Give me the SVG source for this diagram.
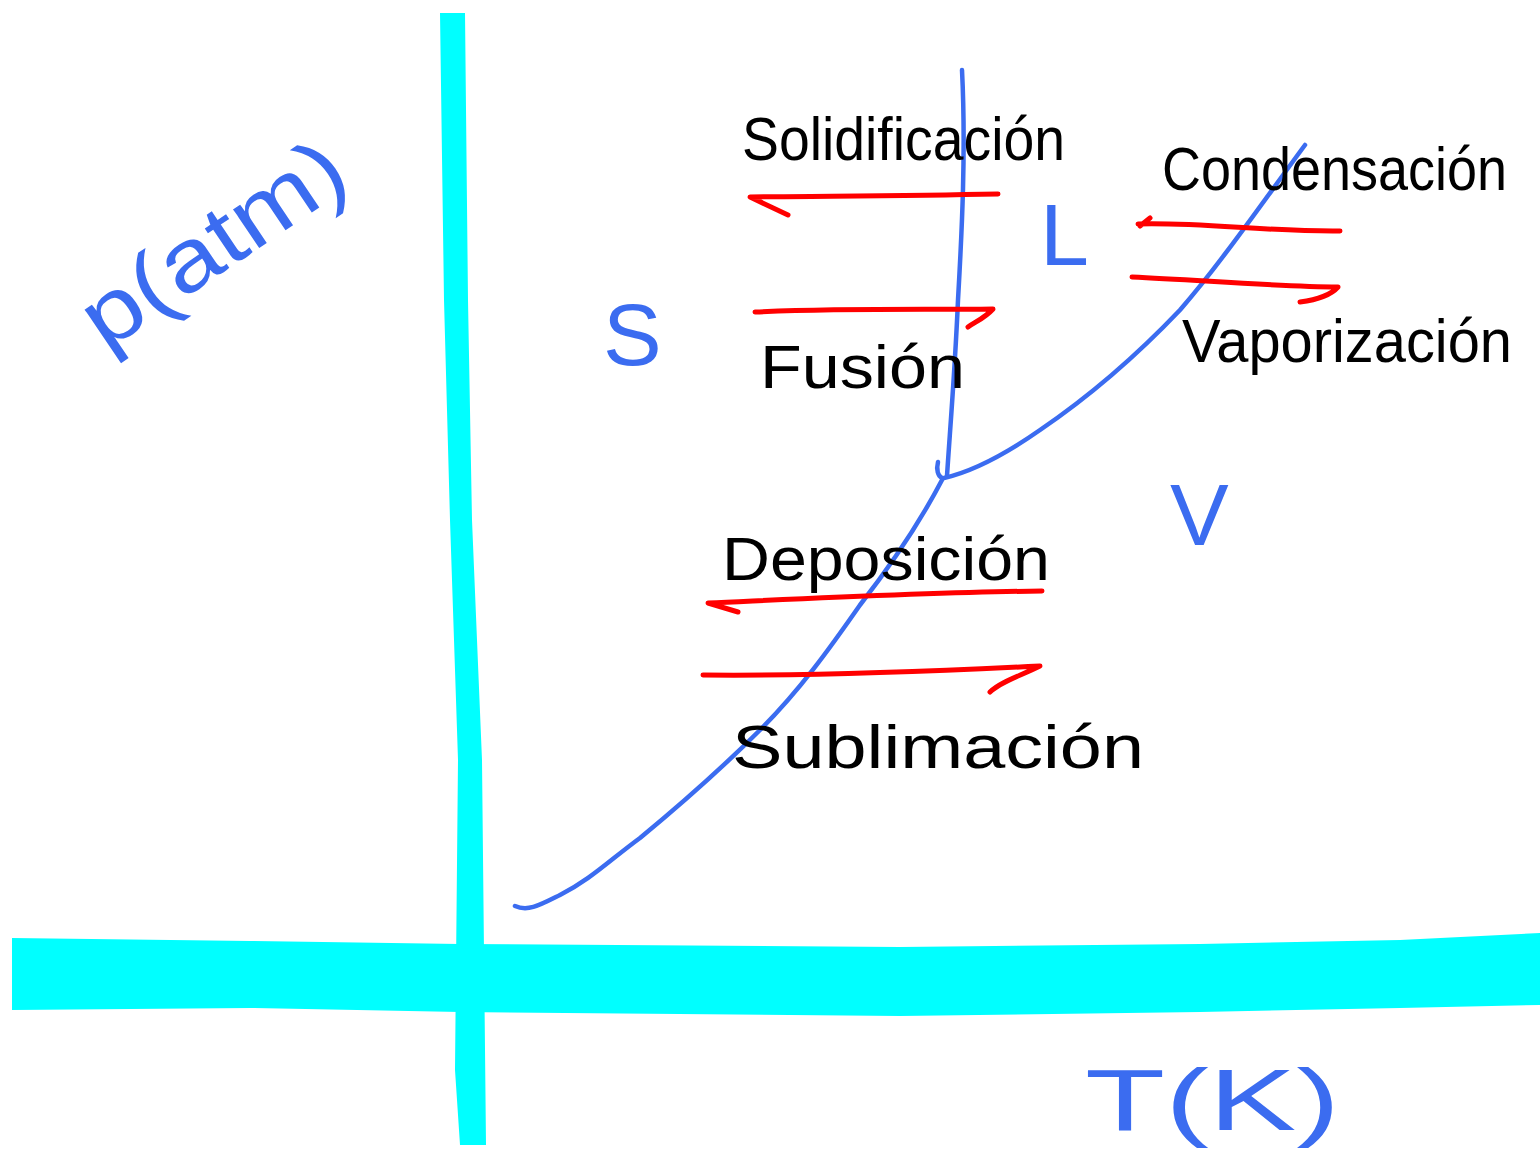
<svg xmlns="http://www.w3.org/2000/svg" width="1540" height="1155" viewBox="0 0 1540 1155">
<style>
.axis{fill:#00FFFF;stroke:none}
.curve{fill:none;stroke:#3B6CF0;stroke-width:4.5;stroke-linecap:round;stroke-linejoin:round}
.arrow{fill:none;stroke:#FF0000;stroke-width:5;stroke-linecap:round;stroke-linejoin:round}
.lbl{font-family:"Liberation Sans",Arial,sans-serif;fill:#000000;font-size:62px}
.phase{font-family:"Liberation Sans",Arial,sans-serif;fill:#3B6CF0;font-size:88px}
</style>
<rect width="1540" height="1155" fill="#FFFFFF"/>
<g id="axes">
<polygon class="axis" points="440,13 465,13 468,300 472,520 482,760 486,1145 460,1145 455,1070 458,760 450,520 444,300"/>
<polygon class="axis" points="12,938 250,941 460,944 900,947 1200,944 1400,940 1540,933 1540,1005 1400,1008 1200,1012 900,1016 460,1012 250,1008 12,1010"/>
</g>
<g id="curves">
<path class="curve" d="M962,70 C966,150 962,230 958,300 C955,370 950,430 947,476"/>
<path class="curve" d="M938,462 C936,470 938,476 942,478"/>
<path class="curve" d="M944,478 C970,472 1000,458 1040,430 C1090,396 1140,352 1180,310 C1220,264 1260,206 1305,145"/>
<path class="curve" d="M942,480 C920,522 895,560 860,605 C830,648 800,690 760,730 C720,770 680,805 640,838 C610,860 590,880 560,895 C540,905 528,912 515,906"/>
</g>
<g id="connectors">
<path class="arrow" d="M998,194 C900,196 820,196 750,197 L788,215"/>
<path class="arrow" d="M755,312 C850,308 930,310 993,309 C985,318 975,322 968,327"/>
<path class="arrow" d="M1340,231 C1270,232 1200,222 1138,224 M1150,218 L1140,226"/>
<path class="arrow" d="M1132,277 C1200,280 1280,287 1338,287 C1330,296 1315,300 1300,302"/>
<path class="arrow" d="M1042,591 C940,592 820,598 708,603 L738,612"/>
<path class="arrow" d="M703,675 C800,676 920,672 1040,666 C1020,676 1000,682 990,692"/>
</g>
<g id="label-p">
<text class="phase" x="0" y="0" font-size="92" transform="translate(105,352) rotate(-34)" textLength="300" lengthAdjust="spacingAndGlyphs">p(atm)</text>
</g>
<g id="label-T">
<text class="phase" x="1085" y="1130" font-size="110" textLength="255" lengthAdjust="spacingAndGlyphs">T(K)</text>
</g>
<g id="phase-S"><text class="phase" x="603" y="365">S</text></g>
<g id="phase-L"><text class="phase" x="1040" y="265">L</text></g>
<g id="phase-V"><text class="phase" x="1170" y="545" font-size="100">V</text></g>
<g id="solidificacion"><text class="lbl" x="742" y="160" textLength="323" lengthAdjust="spacingAndGlyphs">Solidificación</text></g>
<g id="fusion"><text class="lbl" x="760" y="388" textLength="205" lengthAdjust="spacingAndGlyphs">Fusión</text></g>
<g id="condensacion"><text class="lbl" x="1162" y="190" font-size="52" textLength="345" lengthAdjust="spacingAndGlyphs">Condensación</text></g>
<g id="vaporizacion"><text class="lbl" x="1182" y="362" textLength="330" lengthAdjust="spacingAndGlyphs">Vaporización</text></g>
<g id="deposicion"><text class="lbl" x="722" y="580" font-size="68" textLength="328" lengthAdjust="spacingAndGlyphs">Deposición</text></g>
<g id="sublimacion"><text class="lbl" x="732" y="768" font-size="72" textLength="412" lengthAdjust="spacingAndGlyphs">Sublimación</text></g>
</svg>
